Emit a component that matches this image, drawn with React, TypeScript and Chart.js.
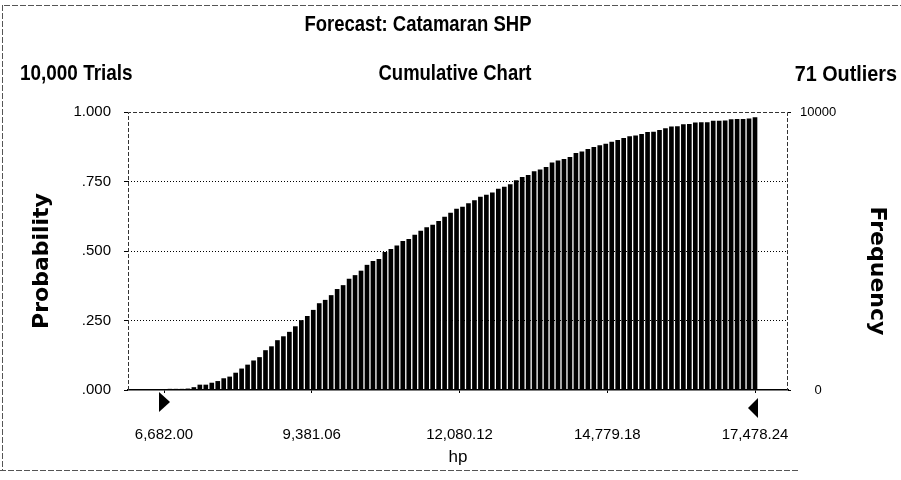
import React, { useEffect, useRef } from "react";
import { Chart, registerables } from "chart.js";

Chart.register(...registerables);

// ---- data ----
const firstBinHp = 6682.0;
const lastBinHp = 17478.24;
const cumulativeProbability = [
  0.002, 0.003, 0.003, 0.003, 0.004, 0.009, 0.018, 0.018, 0.025, 0.031,
  0.041, 0.047, 0.061, 0.076, 0.09, 0.105, 0.117, 0.142, 0.156, 0.178,
  0.192, 0.208, 0.228, 0.25, 0.265, 0.287, 0.311, 0.323, 0.34, 0.362,
  0.376, 0.399, 0.412, 0.428, 0.449, 0.463, 0.47, 0.495, 0.506, 0.519,
  0.535, 0.542, 0.557, 0.572, 0.584, 0.593, 0.607, 0.622, 0.636, 0.651,
  0.658, 0.671, 0.681, 0.694, 0.701, 0.709, 0.723, 0.73, 0.739, 0.753,
  0.765, 0.772, 0.786, 0.792, 0.801, 0.817, 0.824, 0.83, 0.837, 0.851,
  0.857, 0.866, 0.873, 0.879, 0.885, 0.892, 0.898, 0.905, 0.912, 0.914,
  0.92, 0.927, 0.928, 0.934, 0.94, 0.947, 0.948, 0.955, 0.956, 0.961,
  0.962, 0.962, 0.967, 0.967, 0.968, 0.973, 0.974, 0.974, 0.975, 0.98,
];
const hpTicks = [6682.0, 9381.06, 12080.12, 14779.18, 17478.24];
const probabilityTicks = [0, 0.25, 0.5, 0.75, 1];
const frequencyTicks = [0, 10000];
const hpAxisMin = 6024;
const hpAxisMax = 18081;

const titleText = "Forecast: Catamaran SHP";
const trialsText = "10,000 Trials";
const chartKindText = "Cumulative Chart";
const outliersText = "71 Outliers";
const leftAxisTitle = "Probability";
const rightAxisTitle = "Frequency";
const xAxisTitle = "hp";

const SANS = '"Liberation Sans", Arial, sans-serif';

const binHp = cumulativeProbability.map(
  (_, i) => firstBinHp + (i * (lastBinHp - firstBinHp)) / (cumulativeProbability.length - 1)
);

function fmtHp(v: number) {
  return v.toLocaleString("en-US", { minimumFractionDigits: 2, maximumFractionDigits: 2 });
}
function fmtProb(v: number) {
  const s = v.toFixed(3);
  return s.startsWith("0") ? s.slice(1) : s;
}

// draw horizontally condensed text (narrow face look)
function narrowText(ctx: any, text: string, x: number, y: number, align: string, squeeze: number) {
  ctx.save();
  ctx.translate(x, y);
  ctx.scale(squeeze, 1);
  ctx.textAlign = align;
  ctx.fillText(text, 0, 0);
  ctx.restore();
}

const decorPlugin = {
  id: "decor",
  beforeDraw(chart: any) {
    const ctx = chart.ctx;
    ctx.save();
    ctx.fillStyle = "#fff";
    ctx.fillRect(0, 0, chart.width, chart.height);
    ctx.restore();
  },
  afterDraw(chart: any) {
    const ctx = chart.ctx;
    const { left, right, top, bottom } = chart.chartArea;
    ctx.save();
    // outer frame
    ctx.strokeStyle = "#555";
    ctx.lineWidth = 1;
    ctx.setLineDash([6, 2]);
    ctx.beginPath();
    ctx.moveTo(4, 5.5);
    ctx.lineTo(901, 5.5);
    ctx.moveTo(2.5, 5);
    ctx.lineTo(2.5, 470);
    ctx.moveTo(0, 470.5);
    ctx.lineTo(800, 470.5);
    ctx.stroke();
    // plot frame (left, top, right)
    ctx.strokeStyle = "#333";
    ctx.setLineDash([4, 2]);
    ctx.beginPath();
    ctx.moveTo(left + 0.5, bottom);
    ctx.lineTo(left + 0.5, top + 0.5);
    ctx.lineTo(right - 0.5, top + 0.5);
    ctx.lineTo(right - 0.5, bottom);
    ctx.stroke();
    ctx.setLineDash([]);

    // certainty grabbers
    const xs = chart.scales.x;
    const xa = xs.getPixelForValue(firstBinHp);
    const xb = xs.getPixelForValue(lastBinHp);
    ctx.fillStyle = "#000";
    ctx.beginPath();
    ctx.moveTo(xa - 5, 392);
    ctx.lineTo(xa + 6, 402);
    ctx.lineTo(xa - 5, 412);
    ctx.closePath();
    ctx.fill();
    ctx.beginPath();
    ctx.moveTo(xb + 3, 398);
    ctx.lineTo(xb - 7, 408);
    ctx.lineTo(xb + 3, 418);
    ctx.closePath();
    ctx.fill();

    // titles
    ctx.fillStyle = "#000";
    ctx.textBaseline = "middle";
    ctx.font = `bold 22px ${SANS}`;
    narrowText(ctx, titleText, 418, 25, "center", 0.84);
    narrowText(ctx, trialsText, 20, 74, "left", 0.86);
    narrowText(ctx, chartKindText, 455, 74, "center", 0.84);
    narrowText(ctx, outliersText, 897, 75, "right", 0.9);

    // axis titles
    ctx.font = 'bold 22px "DejaVu Sans", sans-serif';
    ctx.textAlign = "center";
    ctx.save();
    ctx.translate(42, 261);
    ctx.rotate(-Math.PI / 2);
    ctx.fillText(leftAxisTitle, 0, 0);
    ctx.restore();
    ctx.save();
    ctx.translate(877, 271);
    ctx.rotate(Math.PI / 2);
    ctx.fillText(rightAxisTitle, 0, 0);
    ctx.restore();
    ctx.restore();
  },
};

export default function App() {
  const ref = useRef<HTMLCanvasElement | null>(null);
  useEffect(() => {
    if (!ref.current) return;
    const chart = new Chart(ref.current, {
      type: "bar",
      data: {
        datasets: [
          {
            label: "Cumulative probability",
            data: cumulativeProbability.map((p, i) => ({ x: binHp[i], y: p })),
            backgroundColor: "#000",
            borderWidth: 0,
            barThickness: 4,
            yAxisID: "y",
          },
        ],
      },
      options: {
        animation: false,
        responsive: false,
        devicePixelRatio: 1,
        layout: { padding: { top: 112, left: 0, right: 0, bottom: 0 } },
        plugins: { legend: { display: false }, tooltip: { enabled: false }, title: { display: false } },
        scales: {
          x: {
            type: "linear",
            position: "bottom",
            offset: false,
            min: hpAxisMin,
            max: hpAxisMax,
            afterBuildTicks: (s: any) => {
              s.ticks = hpTicks.map((v) => ({ value: v }));
            },
            afterFit: (s: any) => {
              s.height = 90;
            },
            ticks: {
              autoSkip: false,
              maxRotation: 0,
              padding: 33,
              color: "#000",
              font: { family: SANS, size: 15 },
              callback: (v: any) => fmtHp(Number(v)),
            },
            grid: { drawOnChartArea: false, drawTicks: true, tickLength: 3, color: "#000", offset: false },
            border: { display: true, color: "#000", width: 1.5 },
            title: {
              display: true,
              text: xAxisTitle,
              color: "#000",
              font: { family: SANS, size: 17 },
              padding: { top: 0, bottom: 12 },
            },
          },
          y: {
            type: "linear",
            position: "left",
            min: 0,
            max: 1,
            afterBuildTicks: (s: any) => {
              s.ticks = probabilityTicks.map((v) => ({ value: v }));
            },
            afterFit: (s: any) => {
              s.width = 128;
            },
            ticks: {
              padding: 13,
              color: "#000",
              font: { family: SANS, size: 15 },
              callback: (v: any) => fmtProb(Number(v)),
            },
            grid: {
              drawTicks: true,
              tickLength: 4,
              tickColor: "#000",
              color: (c: any) =>
                c.tick && (c.tick.value === 0 || c.tick.value === 1) ? "rgba(0,0,0,0)" : "#000",
              lineWidth: 1,
            },
            border: { display: false, dash: [1, 2] },
          },
          y2: {
            type: "linear",
            position: "right",
            min: 0,
            max: 10000,
            afterBuildTicks: (s: any) => {
              s.ticks = frequencyTicks.map((v) => ({ value: v }));
            },
            afterFit: (s: any) => {
              s.width = 113;
            },
            ticks: {
              padding: 9,
              crossAlign: "center",
              color: "#000",
              font: { family: SANS, size: 13 },
              callback: (v: any) => String(v),
            },
            grid: { drawOnChartArea: false, drawTicks: true, tickLength: 3, color: "#000" },
            border: { display: false },
          },
        },
      },
      plugins: [decorPlugin],
    } as any);
    return () => chart.destroy();
  }, []);
  return (
    <div style={{ position: "absolute", left: 0, top: 0, width: 901, height: 480, background: "#fff" }}>
      <canvas ref={ref} width={901} height={480} style={{ display: "block", width: 901, height: 480 }} />
    </div>
  );
}
